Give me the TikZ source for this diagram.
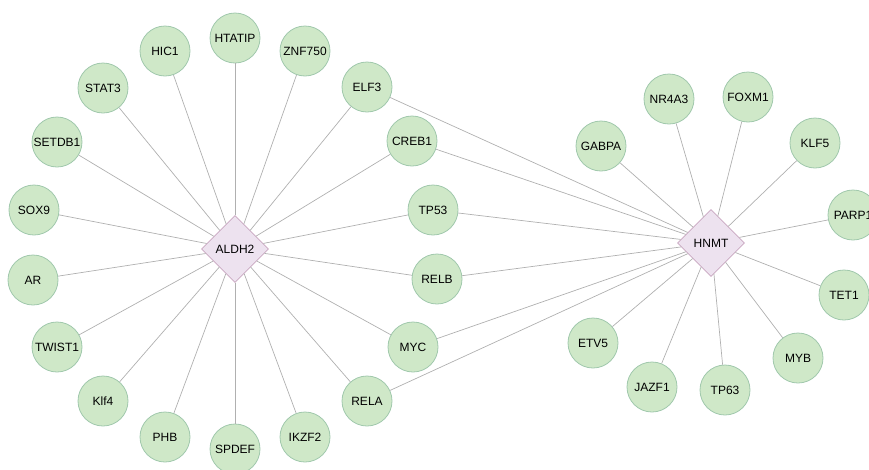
\documentclass[tikz,border=0pt]{standalone}
\usepackage{fontspec}
\setmainfont{Liberation Sans}
\usepackage{tikz}
\usetikzlibrary{shapes.geometric}
\definecolor{geneGreen}{RGB}{207,232,200}
\definecolor{geneBorder}{RGB}{160,200,172}
\definecolor{hubPurple}{RGB}{237,226,239}
\definecolor{hubBorder}{RGB}{200,166,192}
\definecolor{edgeGray}{RGB}{176,176,176}
\tikzset{
  gene/.style={circle, fill=geneGreen, draw=geneBorder, line width=0.8pt, minimum size=50pt, inner sep=0pt, font=\fontsize{12}{14}\selectfont},
  hub/.style={diamond, aspect=1, fill=hubPurple, draw=hubBorder, line width=0.8pt, minimum size=67pt, inner sep=0pt, font=\fontsize{12}{14}\selectfont},
  link/.style={draw=edgeGray, line width=0.7pt}
}

\begin{document}
\begin{tikzpicture}[x=1pt, y=-1pt]
    \useasboundingbox (0,0) rectangle (869,469);
    \clip (0,0) rectangle (869,469);

    % Hubs
    \node[hub] (ALDH2) at (235,249) {ALDH2};
    \node[hub] (HNMT) at (711,243) {HNMT};

    % ALDH2 targets
    \node[gene] (HTATIP) at (235,38) {HTATIP};
    \node[gene] (HIC1) at (165,51) {HIC1};
    \node[gene] (ZNF750) at (305,51) {ZNF750};
    \node[gene] (STAT3) at (103,88) {STAT3};
    \node[gene] (SETDB1) at (57,142) {SETDB1};
    \node[gene] (SOX9) at (34,210) {SOX9};
    \node[gene] (AR) at (33,280) {AR};
    \node[gene] (TWIST1) at (57,347) {TWIST1};
    \node[gene] (Klf4) at (103,401) {Klf4};
    \node[gene] (PHB) at (165,437) {PHB};
    \node[gene] (SPDEF) at (235,449) {SPDEF};
    \node[gene] (IKZF2) at (305,437) {IKZF2};

    % Shared targets
    \node[gene] (ELF3) at (367,87) {ELF3};
    \node[gene] (CREB1) at (412,141) {CREB1};
    \node[gene] (TP53) at (433,210) {TP53};
    \node[gene] (RELB) at (437,279) {RELB};
    \node[gene] (MYC) at (413,347) {MYC};
    \node[gene] (RELA) at (367,401) {RELA};

    % HNMT targets
    \node[gene] (GABPA) at (601,146) {GABPA};
    \node[gene] (NR4A3) at (669,99) {NR4A3};
    \node[gene] (FOXM1) at (748,97) {FOXM1};
    \node[gene] (KLF5) at (815,143) {KLF5};
    \node[gene] (PARP1) at (853,215) {PARP1};
    \node[gene] (TET1) at (844,295) {TET1};
    \node[gene] (MYB) at (798,358) {MYB};
    \node[gene] (TP63) at (725,390) {TP63};
    \node[gene] (JAZF1) at (652,387) {JAZF1};
    \node[gene] (ETV5) at (593,343) {ETV5};

    % Links
    \foreach \g in {HTATIP,HIC1,ZNF750,STAT3,SETDB1,SOX9,AR,TWIST1,Klf4,PHB,SPDEF,IKZF2,ELF3,CREB1,TP53,RELB,MYC,RELA}
        \draw[link] (ALDH2) -- (\g);
    \foreach \g in {ELF3,CREB1,TP53,RELB,MYC,RELA,GABPA,NR4A3,FOXM1,KLF5,PARP1,TET1,MYB,TP63,JAZF1,ETV5}
        \draw[link] (HNMT) -- (\g);
\end{tikzpicture}
\end{document}
